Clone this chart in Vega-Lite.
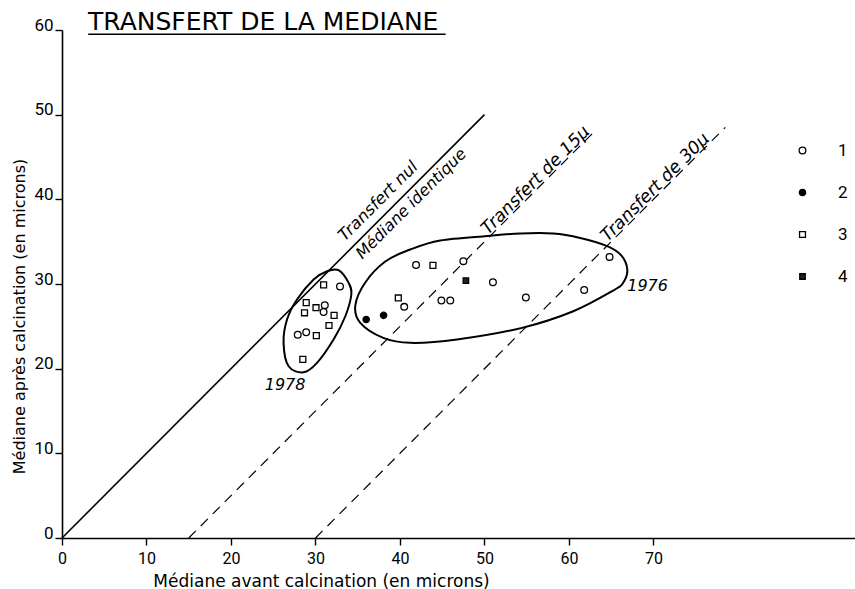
{
  "$schema": "https://vega.github.io/schema/vega-lite/v6.json",
  "width": 793,
  "height": 508,
  "autosize": {"type": "none"},
  "padding": {"left": 62, "top": 30, "right": 0, "bottom": 51},
  "background": "white",
  "title": {
    "text": "TRANSFERT  DE LA MEDIANE",
    "anchor": "start",
    "frame": "group",
    "font": "DejaVu Sans",
    "fontSize": 25,
    "fontWeight": "normal",
    "color": "black",
    "offset": 0,
    "dx": 26,
    "dy": 39,
    "baseline": "alphabetic"
  },
  "config": {
    "view": {"stroke": null},
    "axis": {
      "domainColor": "black",
      "domainWidth": 1.6,
      "tickColor": "black",
      "tickWidth": 1.4,
      "tickSize": 7,
      "labelColor": "black",
      "titleColor": "black",
      "grid": false,
      "labelFont": "Roboto",
      "titleFont": "DejaVu Sans",
      "titleFontWeight": "normal",
      "titleFontSize": 17,
      "labelFlush": false,
      "labelOverlap": false
    },
    "legend": {"symbolStrokeColor": "black", "symbolStrokeWidth": 1.3}
  },
  "datasets": {
    "soulignement": [{"x": 3.1, "x2": 45.4, "y": 59.5}],
    "droites": [
      {"ligne": "nul", "x": 0, "y": 0},
      {"ligne": "nul", "x": 50, "y": 50},
      {"ligne": "15", "x": 15, "y": 0},
      {"ligne": "15", "x": 63, "y": 48},
      {"ligne": "30", "x": 30, "y": 0},
      {"ligne": "30", "x": 78.5, "y": 48.5}
    ],
    "contours": [
      {"annee": "1978", "i": 0, "x": 32.73, "y": 31.63},
      {"annee": "1978", "i": 1, "x": 33.92, "y": 30.14},
      {"annee": "1978", "i": 2, "x": 34.24, "y": 28.76},
      {"annee": "1978", "i": 3, "x": 33.53, "y": 26.19},
      {"annee": "1978", "i": 4, "x": 32.14, "y": 23.44},
      {"annee": "1978", "i": 5, "x": 30.18, "y": 20.69},
      {"annee": "1978", "i": 6, "x": 28.59, "y": 19.57},
      {"annee": "1978", "i": 7, "x": 26.82, "y": 20.28},
      {"annee": "1978", "i": 8, "x": 26.22, "y": 23.05},
      {"annee": "1978", "i": 9, "x": 26.63, "y": 25.8},
      {"annee": "1978", "i": 10, "x": 27.81, "y": 28.17},
      {"annee": "1978", "i": 11, "x": 29.78, "y": 30.53},
      {"annee": "1978", "i": 12, "x": 31.36, "y": 31.51},
      {"annee": "1976", "i": 0, "x": 34.71, "y": 27.46},
      {"annee": "1976", "i": 1, "x": 35.89, "y": 30.18},
      {"annee": "1976", "i": 2, "x": 38.26, "y": 32.66},
      {"annee": "1976", "i": 3, "x": 41.22, "y": 34.08},
      {"annee": "1976", "i": 4, "x": 44.77, "y": 35.14},
      {"annee": "1976", "i": 5, "x": 50.33, "y": 35.67},
      {"annee": "1976", "i": 6, "x": 54.24, "y": 35.97},
      {"annee": "1976", "i": 7, "x": 58.14, "y": 35.97},
      {"annee": "1976", "i": 8, "x": 61.34, "y": 35.44},
      {"annee": "1976", "i": 9, "x": 64.53, "y": 34.47},
      {"annee": "1976", "i": 10, "x": 66.19, "y": 33.37},
      {"annee": "1976", "i": 11, "x": 66.9, "y": 31.71},
      {"annee": "1976", "i": 12, "x": 66.43, "y": 30.17},
      {"annee": "1976", "i": 13, "x": 65.24, "y": 29.23},
      {"annee": "1976", "i": 14, "x": 60.51, "y": 26.78},
      {"annee": "1976", "i": 15, "x": 54.44, "y": 24.82},
      {"annee": "1976", "i": 16, "x": 46.75, "y": 23.44},
      {"annee": "1976", "i": 17, "x": 41.22, "y": 23.05},
      {"annee": "1976", "i": 18, "x": 38.02, "y": 23.64},
      {"annee": "1976", "i": 19, "x": 35.3, "y": 25.41}
    ],
    "mesures": [
      {"annee": "1978", "type": "3", "x": 30.96, "y": 29.9},
      {"annee": "1978", "type": "1", "x": 32.9, "y": 29.7},
      {"annee": "1978", "type": "3", "x": 28.9, "y": 27.8},
      {"annee": "1978", "type": "3", "x": 28.7, "y": 26.6},
      {"annee": "1978", "type": "3", "x": 30.06, "y": 27.2},
      {"annee": "1978", "type": "1", "x": 31.1, "y": 27.5},
      {"annee": "1978", "type": "1", "x": 30.96, "y": 26.7},
      {"annee": "1978", "type": "3", "x": 32.2, "y": 26.3},
      {"annee": "1978", "type": "3", "x": 31.6, "y": 25.1},
      {"annee": "1978", "type": "1", "x": 27.9, "y": 24.0},
      {"annee": "1978", "type": "1", "x": 28.9, "y": 24.3},
      {"annee": "1978", "type": "3", "x": 30.1, "y": 23.9},
      {"annee": "1978", "type": "3", "x": 28.5, "y": 21.1},
      {"annee": "1976", "type": "2", "x": 36.0, "y": 25.8},
      {"annee": "1976", "type": "2", "x": 38.06, "y": 26.3},
      {"annee": "1976", "type": "3", "x": 39.8, "y": 28.35},
      {"annee": "1976", "type": "1", "x": 40.5, "y": 27.3},
      {"annee": "1976", "type": "1", "x": 41.9, "y": 32.25},
      {"annee": "1976", "type": "3", "x": 43.9, "y": 32.2},
      {"annee": "1976", "type": "1", "x": 47.5, "y": 32.7},
      {"annee": "1976", "type": "4", "x": 47.8, "y": 30.4},
      {"annee": "1976", "type": "1", "x": 51.0, "y": 30.2},
      {"annee": "1976", "type": "1", "x": 44.9, "y": 28.05},
      {"annee": "1976", "type": "1", "x": 45.95, "y": 28.05},
      {"annee": "1976", "type": "1", "x": 54.9, "y": 28.4},
      {"annee": "1976", "type": "1", "x": 61.8, "y": 29.3},
      {"annee": "1976", "type": "1", "x": 64.8, "y": 33.2}
    ],
    "textes": [
      {"texte": "Transfert  nul", "position": "dessus", "x": 38.6, "y": 38.6},
      {"texte": "Médiane identique", "position": "dessous", "x": 40.4, "y": 40.4},
      {"texte": "Transfert de 15µ", "position": "sur", "x": 56.65, "y": 41.65},
      {"texte": "Transfert de 30µ", "position": "sur", "x": 70.8, "y": 40.8},
      {"texte": "1978", "position": "annee", "x": 26.4, "y": 18.1},
      {"texte": "1976", "position": "annee", "x": 69.3, "y": 29.8}
    ]
  },
  "encoding": {
    "x": {
      "field": "x",
      "type": "quantitative",
      "scale": {"domain": [0, 93.85], "nice": false, "zero": false},
      "axis": {
        "values": [0, 10, 20, 30, 40, 50, 60, 70],
        "labelFontSize": 16,
        "labelPadding": 5,
        "title": "Médiane  avant  calcination (en  microns)",
        "titleX": 259,
        "titleY": 48,
        "titleAlign": "center",
        "titleBaseline": "alphabetic"
      }
    },
    "y": {
      "field": "y",
      "type": "quantitative",
      "scale": {"domain": [0, 60], "nice": false, "zero": false},
      "axis": {
        "values": [0, 10, 20, 30, 40, 50, 60],
        "labelFontSize": 17,
        "labelPadding": 2,
        "labelBaseline": "alphabetic",
        "title": "Médiane après calcination (en  microns)",
        "titleFontSize": 16,
        "titleX": -43,
        "titleY": 286,
        "titleAngle": 270,
        "titleAlign": "center",
        "titleBaseline": "middle"
      }
    }
  },
  "layer": [
    {
      "data": {"name": "soulignement"},
      "mark": {"type": "rule", "color": "black", "strokeWidth": 1.5},
      "encoding": {"x2": {"field": "x2"}}
    },
    {
      "data": {"name": "droites"},
      "transform": [{"filter": "datum.ligne === 'nul'"}],
      "mark": {"type": "line", "color": "black", "strokeWidth": 1.6},
      "encoding": {"detail": {"field": "ligne"}}
    },
    {
      "data": {"name": "droites"},
      "transform": [{"filter": "datum.ligne !== 'nul'"}],
      "mark": {"type": "line", "color": "black", "strokeWidth": 1.2, "strokeDash": [10, 7]},
      "encoding": {"detail": {"field": "ligne"}}
    },
    {
      "data": {"name": "contours"},
      "mark": {"type": "line", "color": "black", "strokeWidth": 2, "interpolate": "cardinal-closed"},
      "encoding": {
        "detail": {"field": "annee"},
        "order": {"field": "i", "type": "quantitative"}
      }
    },
    {
      "data": {"name": "mesures"},
      "mark": {"type": "point", "filled": true, "strokeWidth": 1.3, "opacity": 1},
      "encoding": {
        "shape": {
          "field": "type",
          "type": "nominal",
          "scale": {"domain": ["1", "2", "3", "4"], "range": ["circle", "circle", "square", "square"]},
          "legend": {"title": null, "orient": "none", "legendX": 732, "legendY": 112, "labelFont": "Roboto", "labelFontSize": 17, "labelColor": "black", "labelOffset": 27, "rowPadding": 24}
        },
        "fill": {
          "field": "type",
          "type": "nominal",
          "scale": {"domain": ["1", "2", "3", "4"], "range": ["white", "black", "white", "#222222"]},
          "legend": {"title": null, "orient": "none", "legendX": 732, "legendY": 112, "labelFont": "Roboto", "labelFontSize": 17, "labelColor": "black", "labelOffset": 27, "rowPadding": 24}
        },
        "stroke": {
          "field": "type",
          "type": "nominal",
          "scale": {"domain": ["1", "2", "3", "4"], "range": ["black", "black", "black", "black"]},
          "legend": {"title": null, "orient": "none", "legendX": 732, "legendY": 112, "labelFont": "Roboto", "labelFontSize": 17, "labelColor": "black", "labelOffset": 27, "rowPadding": 24}
        },
        "size": {
          "field": "type",
          "type": "nominal",
          "scale": {"domain": ["1", "2", "3", "4"], "range": [45, 30, 120, 75]},
          "legend": {"title": null, "orient": "none", "legendX": 732, "legendY": 112, "labelFont": "Roboto", "labelFontSize": 17, "labelColor": "black", "labelOffset": 27, "rowPadding": 24}
        }
      }
    },
    {
      "data": {"name": "textes"},
      "transform": [{"filter": "datum.position === 'dessus'"}],
      "mark": {"type": "text", "angle": 315, "align": "center", "baseline": "alphabetic", "dy": -9, "font": "DejaVu Sans", "fontStyle": "italic", "fontSize": 16.5, "color": "black"},
      "encoding": {"text": {"field": "texte"}}
    },
    {
      "data": {"name": "textes"},
      "transform": [{"filter": "datum.position === 'dessous'"}],
      "mark": {"type": "text", "angle": 315, "align": "center", "baseline": "top", "dy": 3, "font": "DejaVu Sans", "fontStyle": "italic", "fontSize": 16, "color": "black"},
      "encoding": {"text": {"field": "texte"}}
    },
    {
      "data": {"name": "textes"},
      "transform": [{"filter": "datum.position === 'sur'"}],
      "mark": {"type": "text", "angle": 315, "align": "center", "baseline": "alphabetic", "dy": -2, "font": "DejaVu Sans", "fontStyle": "italic", "fontSize": 17.5, "color": "black"},
      "encoding": {"text": {"field": "texte"}}
    },
    {
      "data": {"name": "textes"},
      "transform": [{"filter": "datum.position === 'annee'"}],
      "mark": {"type": "text", "align": "center", "baseline": "middle", "font": "DejaVu Sans", "fontStyle": "italic", "fontSize": 16, "color": "black"},
      "encoding": {"text": {"field": "texte"}}
    }
  ]
}
